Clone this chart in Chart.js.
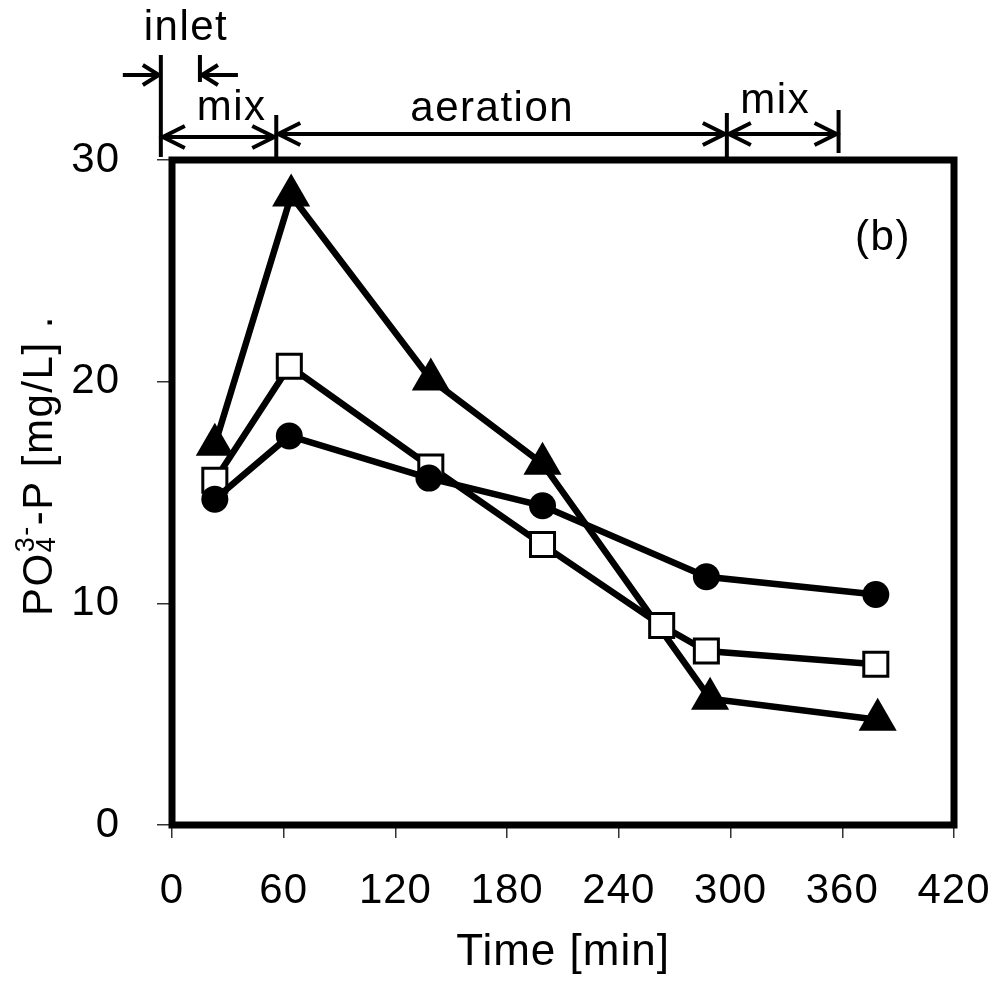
<!DOCTYPE html>
<html>
<head>
<meta charset="utf-8">
<script src="https://cdn.jsdelivr.net/npm/chart.js@4.4.1/dist/chart.umd.min.js"></script>
<style>
  html, body { margin: 0; padding: 0; background: #fff; }
  #wrap { width: 993px; height: 983px; }
</style>
</head>
<body>
<div id="wrap"><canvas id="chart" width="993" height="983"></canvas></div>
<script>
// ============================================================
// Data (time in min, PO4-P in mg/L)
// ============================================================
const circleTime = [23, 63, 138, 199, 287, 378];
const circleVals = [14.7, 17.55, 15.65, 14.4, 11.2, 10.4];

const squareTime = [23, 63, 139, 199, 263, 287, 378];
const squareVals = [15.55, 20.7, 16.15, 12.65, 9.0, 7.85, 7.25];

const triTime = [23, 64, 139, 199, 289, 379];
const triVals = [17.15, 28.4, 20.1, 16.3, 5.7, 4.75];

const xTicks = [0, 60, 120, 180, 240, 300, 360, 420];
const yTicks = [0, 10, 20, 30];

// operating phases drawn above the plot
const phaseBounds = [-6, 56, 298, 358];
const phaseNames = ['mix', 'aeration', 'mix'];
const phaseLabelAt = [32, 172, 324];
const inletEnd = 15;

const FONT = "'Liberation Sans', Arial, sans-serif";

const toPoints = (ts, vs) => ts.map((t, i) => ({ x: t, y: vs[i] }));

// ============================================================
// Frame, phase arrows, axis title with sub/superscript
// ============================================================
function vline(ctx, x, y1, y2) {
  ctx.beginPath();
  ctx.moveTo(x, y1);
  ctx.lineTo(x, y2);
  ctx.stroke();
}

function head(ctx, x, y, dir, len, spread) {
  ctx.beginPath();
  ctx.moveTo(x - dir * len, y - spread);
  ctx.lineTo(x, y);
  ctx.lineTo(x - dir * len, y + spread);
  ctx.stroke();
}

function dblArrow(ctx, x1, x2, y) {
  ctx.beginPath();
  ctx.moveTo(x1, y);
  ctx.lineTo(x2, y);
  ctx.stroke();
  head(ctx, x1 + 2, y, -1, 22, 11);
  head(ctx, x2 - 2, y, 1, 22, 11);
}

const overlay = {
  id: 'overlay',
  beforeDraw(chart) {
    // the source text is set slightly wide
    chart.ctx.letterSpacing = '1px';
  },
  beforeDatasetsDraw(chart) {
    const { ctx, chartArea: a } = chart;
    ctx.save();
    ctx.strokeStyle = '#000';
    ctx.lineWidth = 7;
    ctx.strokeRect(a.left, a.top, a.right - a.left, a.bottom - a.top);
    ctx.restore();
  },
  afterDraw(chart) {
    const ctx = chart.ctx;
    const px = t => chart.scales.x.getPixelForValue(t);
    ctx.save();
    ctx.strokeStyle = '#000';
    ctx.fillStyle = '#000';
    ctx.lineWidth = 4;

    // inlet
    const x0 = px(phaseBounds[0]);
    const xi = px(inletEnd);
    vline(ctx, x0, 55, 157);
    vline(ctx, xi, 55, 82);
    ctx.beginPath(); ctx.moveTo(x0 - 38, 75); ctx.lineTo(x0 - 2, 75); ctx.stroke();
    head(ctx, x0 - 2, 75, 1, 16, 10);
    ctx.beginPath(); ctx.moveTo(xi + 38, 75); ctx.lineTo(xi + 2, 75); ctx.stroke();
    head(ctx, xi + 2, 75, -1, 16, 10);

    // phases
    const x1 = px(phaseBounds[1]), x2 = px(phaseBounds[2]), x3 = px(phaseBounds[3]);
    vline(ctx, x1, 115, 157);
    vline(ctx, x2, 113, 157);
    vline(ctx, x3, 110, 153);
    dblArrow(ctx, x0, x1, 137);
    dblArrow(ctx, x1, x2, 134);
    dblArrow(ctx, x2, x3, 134);

    ctx.letterSpacing = '1.5px';
    ctx.font = `42px ${FONT}`;
    ctx.textAlign = 'center';
    ctx.textBaseline = 'alphabetic';
    ctx.fillText('inlet', px((phaseBounds[0] + inletEnd) / 2 + 3), 40);
    ctx.fillText(phaseNames[0], px(phaseLabelAt[0]), 120);
    ctx.fillText(phaseNames[1], px(phaseLabelAt[1]), 121);
    ctx.fillText(phaseNames[2], px(phaseLabelAt[2]), 113);

    // panel tag
    ctx.textBaseline = 'middle';
    ctx.fillText('(b)', 883, 238);

    // y title: PO4(3-)-P [mg/L] .
    ctx.letterSpacing = '1.5px';
    ctx.translate(52, 616);
    ctx.rotate(-Math.PI / 2);
    ctx.textAlign = 'left';
    ctx.textBaseline = 'alphabetic';
    ctx.font = `42px ${FONT}`;
    let cx = 0;
    ctx.fillText('PO', cx, 0);
    cx += ctx.measureText('PO').width;
    ctx.font = `27px ${FONT}`;
    ctx.fillText('4', cx, 3);
    ctx.fillText('3-', cx, -18);
    cx += ctx.measureText('3-').width;
    ctx.font = `42px ${FONT}`;
    ctx.fillText('-P [mg/L] .', cx, 0);
    ctx.restore();
  }
};

// ============================================================
// Chart
// ============================================================
const base = {
  borderColor: '#000',
  borderWidth: 6.5,
  pointBorderColor: '#000',
  tension: 0,
  fill: false
};

new Chart(document.getElementById('chart'), {
  type: 'line',
  data: {
    datasets: [
      {
        ...base,
        label: 'circle',
        data: toPoints(circleTime, circleVals),
        pointStyle: 'circle',
        pointRadius: 13.5,
        pointBackgroundColor: '#000',
        pointBorderWidth: 0
      },
      {
        ...base,
        label: 'square',
        data: toPoints(squareTime, squareVals),
        pointStyle: 'rect',
        pointRadius: 17,
        pointBackgroundColor: '#fff',
        pointBorderWidth: 3
      },
      {
        ...base,
        label: 'triangle',
        data: toPoints(triTime, triVals),
        pointStyle: 'triangle',
        pointRadius: 22,
        pointBackgroundColor: '#000',
        pointBorderWidth: 0
      }
    ]
  },
  options: {
    responsive: false,
    animation: false,
    devicePixelRatio: 1,
    layout: { padding: { left: 0, top: 160, right: 39, bottom: 0 } },
    plugins: {
      legend: { display: false },
      tooltip: { enabled: false }
    },
    scales: {
      x: {
        type: 'linear',
        min: 0,
        max: 420,
        afterBuildTicks: s => { s.ticks = xTicks.map(v => ({ value: v })); },
        afterFit: s => { s.height = 158; s.paddingLeft = 0; s.paddingRight = 0; },
        border: { display: false },
        grid: {
          drawOnChartArea: false,
          drawTicks: true,
          tickLength: 13,
          color: '#333',
          lineWidth: 1.5
        },
        ticks: {
          color: '#000',
          padding: 28,
          maxRotation: 0,
          autoSkip: false,
          font: { family: FONT, size: 42 }
        },
        title: {
          display: true,
          text: 'Time [min]',
          color: '#000',
          padding: { top: 0, bottom: 4 },
          font: { family: FONT, size: 44 }
        }
      },
      y: {
        min: 0,
        max: 30,
        afterBuildTicks: s => { s.ticks = yTicks.map(v => ({ value: v })); },
        afterFit: s => { s.width = 172; s.paddingTop = 0; s.paddingBottom = 0; },
        border: { display: false },
        grid: {
          drawOnChartArea: false,
          drawTicks: true,
          tickLength: 15,
          color: '#333',
          lineWidth: 1.5
        },
        ticks: {
          color: '#000',
          padding: 37,
          font: { family: FONT, size: 42 }
        }
      }
    }
  },
  plugins: [overlay]
});
</script>
</body>
</html>
